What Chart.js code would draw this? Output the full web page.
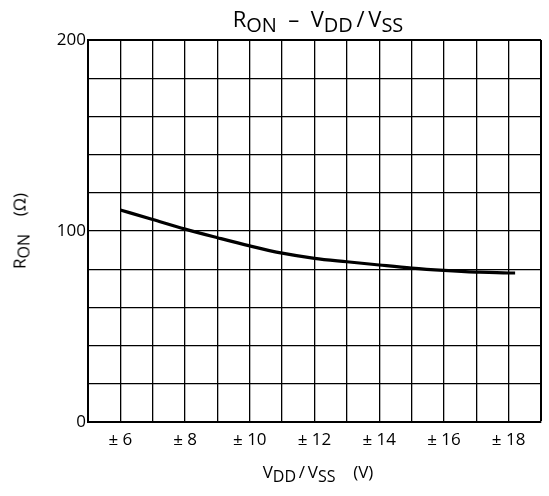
<!DOCTYPE html>
<html>
<head>
<meta charset="utf-8">
<script src="https://cdn.jsdelivr.net/npm/chart.js@4"></script>
<style>
  html, body { margin: 0; padding: 0; background: #fff; }
  #wrap { position: relative; width: 549px; height: 496px; font-family: "Open Sans", "Noto Sans", sans-serif; color: #000; }
  canvas { position: absolute; left: 0; top: 0; }
  .lbl { position: absolute; white-space: nowrap; line-height: 1; }
  #title { left: 0; width: 636px; text-align: center; top: 7px; font-size: 22px; }
  #title sub { font-size: 20px; vertical-align: -5px; }
  #xtitle { left: 0; width: 636px; text-align: center; top: 463px; font-size: 17px; }
  #xtitle sub { font-size: 16px; vertical-align: -4px; }
  #ytitle { left: 21px; top: 231px; transform: translate(-50%, -50%) rotate(-90deg); font-size: 17px; }
  #ytitle sub { font-size: 16px; vertical-align: -4px; }
</style>
</head>
<body>
<div id="wrap">
  <canvas id="c" width="549" height="496"></canvas>
  <div class="lbl" id="title">R<sub>ON</sub>&nbsp;&nbsp;–&nbsp;&nbsp;V<sub>DD</sub>&thinsp;/&thinsp;V<sub>SS</sub></div>
  <div class="lbl" id="xtitle">V<sub>DD</sub>&thinsp;/&thinsp;V<sub>SS</sub>&nbsp;&nbsp;&nbsp;&nbsp;(V)</div>
  <div class="lbl" id="ytitle">R<sub>ON</sub>&nbsp;&nbsp;&nbsp;&nbsp;(Ω)</div>
</div>
<script>
const supplyVolts = [6, 7, 8, 9, 10, 11, 12, 13, 14, 15, 16, 17, 18, 18.2];
const ronOhms = [111, 106, 101, 96.5, 92.2, 88.4, 85.7, 83.9, 82.2, 80.6, 79.4, 78.5, 78.0, 78.0];
const xTickLabels = { 6: "± 6", 8: "± 8", 10: "± 10", 12: "± 12", 14: "± 14", 16: "± 16", 18: "± 18" };
const yTickLabels = { 0: "0", 100: "100", 200: "200" };

const points = supplyVolts.map((v, i) => ({ x: v, y: ronOhms[i] }));

new Chart(document.getElementById('c'), {
  type: 'line',
  data: {
    datasets: [{
      data: points,
      borderColor: '#000',
      borderWidth: 3.2,
      pointRadius: 0,
      cubicInterpolationMode: 'monotone',
      fill: false
    }]
  },
  options: {
    responsive: false,
    animation: false,
    events: [],
    layout: { padding: { top: 40, right: 1, left: 0, bottom: 0 } },
    plugins: { legend: { display: false }, title: { display: false }, tooltip: { enabled: false } },
    scales: {
      x: {
        type: 'linear',
        min: 5, max: 19,
        ticks: {
          stepSize: 1,
          autoSkip: false,
          maxRotation: 0,
          padding: 8,
          color: '#000',
          font: { family: '"Open Sans", "Noto Sans", sans-serif', size: 17 },
          callback: (v) => xTickLabels[v] || ''
        },
        grid: {
          color: '#000',
          lineWidth: (ctx) => (ctx.tick && ctx.tick.value === 19) ? 2 : 1.3,
          drawTicks: false
        },
        border: { color: '#000', width: 2 },
        afterFit: (s) => { s.height = 74; }
      },
      y: {
        min: 0, max: 200,
        ticks: {
          stepSize: 20,
          autoSkip: false,
          padding: 2,
          color: '#000',
          font: { family: '"Open Sans", "Noto Sans", sans-serif', size: 17 },
          callback: (v) => (v in yTickLabels) ? yTickLabels[v] : ''
        },
        grid: {
          color: '#000',
          lineWidth: (ctx) => (ctx.tick && ctx.tick.value === 200) ? 2 : 1.3,
          drawTicks: false
        },
        border: { color: '#000', width: 2 },
        afterFit: (s) => { s.width = 88; }
      }
    }
  }
});
</script>
</body>
</html>
